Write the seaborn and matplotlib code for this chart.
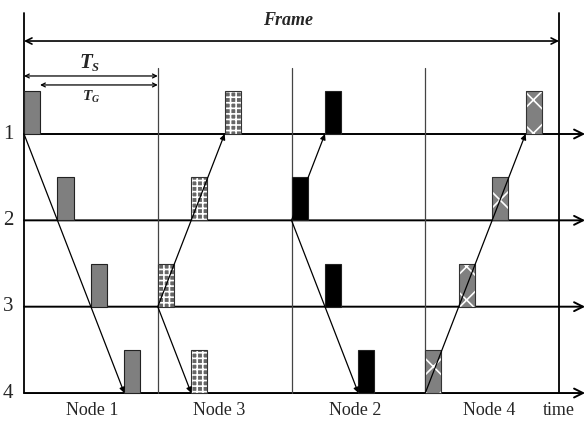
import numpy as np
import pandas as pd
import seaborn as sns
from matplotlib import pyplot as plt

# dados do diagrama
nos = ['Node 1', 'Node 3', 'Node 2', 'Node 4']
linhas = [1, 2, 3, 4]
# sub-slot (0..3) ocupado por cada linha dentro de cada no
slot_no1 = [0, 1, 2, 3]
slot_no3 = [2, 1, 0, 1]
slot_no2 = [1, 0, 1, 2]
slot_no4 = [3, 2, 1, 0]
slots = [slot_no1, slot_no3, slot_no2, slot_no4]
# setas: (no, sub-slot origem, linha origem, sub-slot destino, linha destino)
setas = [(0, 0, 1, 3, 4),
         (1, 0, 3, 2, 1), (1, 0, 3, 1, 4),
         (2, 0, 2, 1, 1), (2, 0, 2, 2, 4),
         (3, 0, 4, 3, 1)]

sns.set_theme(style='white')
plt.rcParams['font.family'] = ['Liberation Serif', 'DejaVu Serif']

largura = 0.48
altura = 0.5

def y_linha(r):
    return 4 - r

fig = plt.figure(figsize=(5.87, 4.21), dpi=100)
ax = fig.add_axes([0, 0, 1, 1])
ax.set_xlim(-0.718, 16.836)
ax.set_ylim(-0.324, 4.552)
ax.axis('off')

# barras
estilos = [dict(color='#7f7f7f', hatch=None),
           dict(color='#666666', hatch='+++'),
           dict(color='black', hatch=None),
           dict(color='#808080', hatch='x')]
rows = []
for i, no in enumerate(nos):
    for r, s in zip(linhas, slots[i]):
        rows.append({'no': i, 'linha': r, 'x': 4 * i + s})
df = pd.DataFrame(rows)

plt.rcParams['hatch.linewidth'] = 1.2
for _, b in df.iterrows():
    st = estilos[b['no']]
    if st['hatch']:
        ax.bar(b['x'], altura, largura, bottom=y_linha(b['linha']), align='edge',
               color=st['color'], edgecolor='white', hatch=st['hatch'], linewidth=0, zorder=2)
        ax.bar(b['x'], altura, largura, bottom=y_linha(b['linha']), align='edge',
               fill=False, edgecolor='#333333', linewidth=0.8, zorder=3)
    else:
        ax.bar(b['x'], altura, largura, bottom=y_linha(b['linha']), align='edge',
               color=st['color'], edgecolor='#222222', linewidth=0.8, zorder=2)

# linhas horizontais com seta
for r in linhas:
    y = y_linha(r)
    ax.annotate('', xy=(16.78, y), xytext=(0, y),
                arrowprops=dict(arrowstyle='->', color='black', lw=1.4,
                                mutation_scale=16, shrinkA=0, shrinkB=0), zorder=1)
    ax.text(-0.47, y, str(r), ha='center', va='center', fontsize=15)

# verticais
ax.plot([0, 0], [0, 4.40], color='black', lw=1.3, zorder=1)
ax.plot([16, 16], [0, 4.40], color='black', lw=1.3, zorder=1)
for xv in [4, 8, 12]:
    ax.plot([xv, xv], [0, 3.765], color='#444444', lw=0.9, zorder=1)

# setas diagonais
for no, s0, r0, s1, r1 in setas:
    ax.annotate('', xy=(4 * no + s1, y_linha(r1)), xytext=(4 * no + s0, y_linha(r0)),
                arrowprops=dict(arrowstyle='-|>', color='black', lw=0.9,
                                mutation_scale=8, shrinkA=0, shrinkB=0), zorder=4)

# Frame, Ts, Tg
ax.annotate('', xy=(16, 4.077), xytext=(0, 4.077),
            arrowprops=dict(arrowstyle='<->', color='black', lw=1.2,
                            mutation_scale=11, shrinkA=0, shrinkB=0))
ax.text(7.9, 4.32, 'Frame', ha='center', va='center', fontsize=13,
        fontweight='bold', fontstyle='italic')
ax.annotate('', xy=(4, 3.672), xytext=(0, 3.672),
            arrowprops=dict(arrowstyle='<->', color='black', lw=0.9,
                            mutation_scale=7, shrinkA=0, shrinkB=0))
ax.annotate('', xy=(4, 3.568), xytext=(largura, 3.568),
            arrowprops=dict(arrowstyle='<->', color='black', lw=0.9,
                            mutation_scale=7, shrinkA=0, shrinkB=0))
ax.text(2.03, 3.82, 'T', ha='right', va='center', fontsize=15,
        fontweight='bold', fontstyle='italic')
ax.text(2.03, 3.77, 'S', ha='left', va='center', fontsize=9,
        fontweight='bold', fontstyle='italic')
ax.text(2.03, 3.44, 'T', ha='right', va='center', fontsize=11,
        fontweight='bold', fontstyle='italic')
ax.text(2.03, 3.40, 'G', ha='left', va='center', fontsize=7,
        fontweight='bold', fontstyle='italic')

# rotulos dos nos
centros = [2.05, 5.85, 9.9, 13.9]
for c, no in zip(centros, nos):
    ax.text(c, -0.197, no, ha='center', va='center', fontsize=13)
ax.text(16.0, -0.197, 'time', ha='center', va='center', fontsize=13)

plt.savefig('out.png', dpi=100)
